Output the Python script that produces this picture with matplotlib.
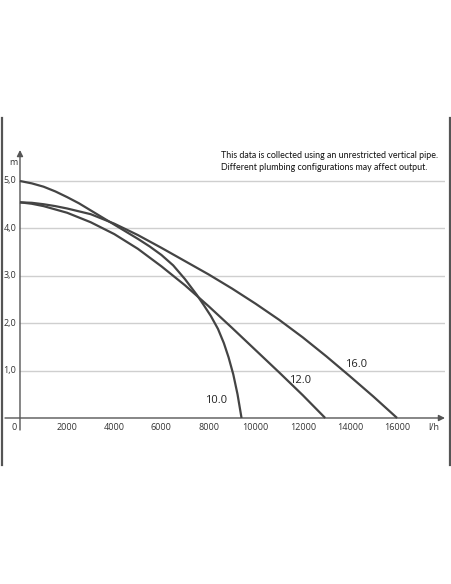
import matplotlib
matplotlib.use("Agg")
import matplotlib.pyplot as plt
from matplotlib.lines import Line2D

plt.rcParams["font.family"] = ["Open Sans", "DejaVu Sans"]

# pump curves: flow (l/h) vs head (m)
flow_10 = [0, 500, 1000, 1500, 2000, 2500, 3000, 3500, 4000, 4500, 5000, 5500, 6000, 6500,
           7000, 7500, 7800, 8100, 8400, 8650, 8850, 9050, 9230, 9400]
head_10 = [5.00, 4.95, 4.88, 4.78, 4.66, 4.53, 4.38, 4.23, 4.08, 3.93, 3.78, 3.62, 3.44, 3.22,
           2.93, 2.60, 2.38, 2.15, 1.88, 1.58, 1.28, 0.92, 0.50, 0.0]

flow_12 = [0, 500, 1000, 1500, 2000, 3000, 4000, 5000, 6000, 7000, 7500, 8000, 9000, 10000,
           11000, 12000, 12950]
head_12 = [4.55, 4.52, 4.47, 4.40, 4.33, 4.13, 3.88, 3.57, 3.20, 2.80, 2.58, 2.36, 1.90, 1.43,
           0.96, 0.48, 0.0]

flow_16 = [0, 500, 1000, 1500, 2000, 3000, 4000, 5000, 6000, 7000, 8000, 9000, 10000, 11000,
           12000, 13000, 14000, 15000, 16000]
head_16 = [4.55, 4.54, 4.51, 4.47, 4.42, 4.30, 4.10, 3.86, 3.59, 3.31, 3.03, 2.73, 2.41, 2.07,
           1.70, 1.30, 0.88, 0.45, 0.0]

x_ticks = [2000, 4000, 6000, 8000, 10000, 12000, 14000, 16000]
y_ticks = [1.0, 2.0, 3.0, 4.0, 5.0]
y_tick_labels = ["1,0", "2,0", "3,0", "4,0", "5,0"]

curve_labels = ["10.0", "12.0", "16.0"]
note = ("This data is collected using an unrestricted vertical pipe.\n"
        "Different plumbing configurations may affect output.")

W, H = 452, 584
fig = plt.figure(figsize=(W / 100, H / 100), dpi=100)
ax = fig.add_axes([5 / W, 154 / H, 440 / W, 280 / H])
ax.set_xlim(-636, 18033)
ax.set_ylim(-0.2532, 5.654)
ax.axis("off")

grid_c = "#cfcfcf"
line_c = "#444444"
axis_c = "#555555"
text_c = "#333333"

for y in y_ticks:
    ax.plot([0, 18000], [y, y], color=grid_c, lw=1.0, zorder=1)

# axes with arrow heads
ax.annotate("", xy=(18033, 0), xytext=(-636, 0),
            arrowprops=dict(arrowstyle="-|>", color=axis_c, lw=1.0, mutation_scale=9,
                            shrinkA=0, shrinkB=0), annotation_clip=False)
ax.annotate("", xy=(0, 5.654), xytext=(0, -0.2532),
            arrowprops=dict(arrowstyle="-|>", color=axis_c, lw=1.0, mutation_scale=9,
                            shrinkA=0, shrinkB=0), annotation_clip=False)

for fx, hy in ((flow_10, head_10), (flow_12, head_12), (flow_16, head_16)):
    ax.plot(fx, hy, color=line_c, lw=1.6, zorder=3, solid_capstyle="butt",
            solid_joinstyle="round")

fs = 6.5
for x in x_ticks:
    ax.text(x, -0.19, f"{x}", ha="center", va="center", fontsize=fs, color=text_c)
ax.text(-250, -0.19, "0", ha="center", va="center", fontsize=fs, color=text_c)
ax.text(17550, -0.19, "l/h", ha="center", va="center", fontsize=fs, color=text_c)
for y, lab in zip(y_ticks, y_tick_labels):
    ax.text(-150, y, lab, ha="right", va="center", fontsize=fs, color=text_c)
ax.text(-100, 5.4, "m", ha="right", va="center", fontsize=fs, color=text_c)

ax.text(8300, 0.36, curve_labels[0], ha="center", va="center", fontsize=8, color="#222222")
ax.text(11900, 0.80, curve_labels[1], ha="center", va="center", fontsize=8, color="#222222")
ax.text(14250, 1.12, curve_labels[2], ha="center", va="center", fontsize=8, color="#222222")

fig.text(221 / W, 1 - 151 / H, note, ha="left", va="top", fontsize=6.4,
         color="#111111", linespacing=1.5, family=["Lato", "DejaVu Sans"])

# frame lines at both sides of the picture
for xp in (2, 450):
    fig.add_artist(Line2D([xp / W, xp / W], [1 - 118 / H, 1 - 465 / H],
                          transform=fig.transFigure, color="#555555", lw=1.6))

fig.savefig("out.png", dpi=100, facecolor="white")
